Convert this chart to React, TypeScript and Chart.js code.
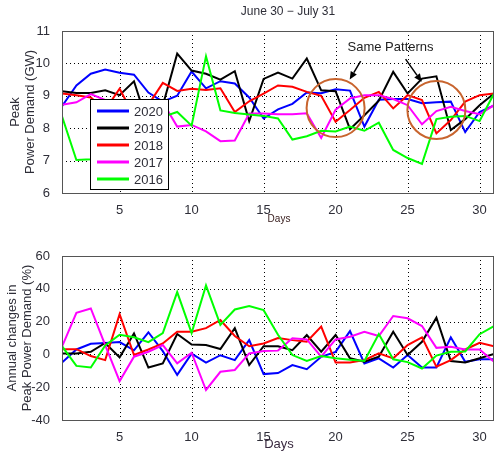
import React, { useEffect, useRef } from "react";
import { Chart, registerables } from "chart.js";
Chart.register(...registerables);

const days = [1, 2, 3, 4, 5, 6, 7, 8, 9, 10, 11, 12, 13, 14, 15, 16, 17, 18, 19, 20, 21, 22, 23, 24, 25, 26, 27, 28, 29, 30, 31];
const xTicks = [5, 10, 15, 20, 25, 30];
const years = ["2020", "2019", "2018", "2017", "2016"];
const colors = ["#0000ff", "#000000", "#ff0000", "#ff00ff", "#00ff00"];

// Peak power demand (GW)
const demand2020 = [8.68, 9.32, 9.68, 9.81, 9.71, 9.65, 9.1, 8.82, 9.0, 9.75, 9.23, 9.45, 9.38, 8.95, 8.3, 8.58, 8.75, 9.1, 9.08, 9.2, 9.16, 8.05, 8.88, 8.9, 8.9, 8.77, 8.8, 8.82, 7.88, 8.5, 8.7];
const demand2019 = [9.14, 9.09, 9.09, 9.17, 9.02, 9.45, 8.05, 8.7, 10.3, 9.78, 9.68, 9.5, 9.76, 8.22, 9.52, 9.72, 9.53, 10.15, 9.17, 9.14, 7.97, 8.4, 8.85, 9.74, 9.07, 9.53, 9.6, 7.94, 8.28, 8.71, 9.07];
const demand2018 = [9.07, 9.02, 8.95, 8.57, 9.22, 8.38, 8.72, 9.4, 9.15, 9.22, 9.18, 9.23, 8.5, 8.83, 9.07, 9.32, 9.28, 9.12, 9.0, 8.2, 8.56, 8.94, 9.12, 8.61, 9.02, 8.87, 7.84, 8.25, 8.82, 9.02, 9.07];
const demand2017 = [8.72, 8.8, 9.05, 8.87, 7.38, 8.41, 8.47, 8.8, 8.05, 8.1, 7.9, 7.6, 7.62, 8.45, 8.45, 8.43, 8.43, 8.46, 7.7, 8.57, 8.92, 9.02, 9.02, 8.9, 8.71, 8.12, 8.53, 8.66, 8.53, 8.43, 8.71];
const demand2016 = [8.37, 7.02, 7.04, 8.39, 8.82, 8.53, 8.33, 8.35, 8.5, 8.08, 10.22, 8.55, 8.47, 8.42, 8.38, 8.3, 7.65, 7.75, 7.92, 7.9, 8.05, 7.92, 8.17, 7.33, 7.08, 6.9, 8.28, 8.35, 8.38, 8.22, 9.07];

// Annual changes (%)
const change2020 = [-5, 3, 6.5, 7, 7.5, 2.5, 13.5, 2, -12.5, 0.5, -5, -0.5, -3.5, 8.7, -12, -11.4, -6.5, -9, -1.5, 1.5, 14.2, -5.5, -2.4, -8, -0.4, -8, -8, 10.4, -4.5, -3, -3];
const change2019 = [0.6, 0.6, 1.6, 7, -1.8, 12.8, -8, -5.5, 12.4, 6, 5.7, 3.3, 16, -6.5, 5, 5, 2.6, 11.8, 1.6, 11.8, -2.4, -4.5, -1.4, 13.8, -0.4, 7.7, 22.4, -4, -4.9, -2.4, 0.2];
const change2018 = [3.2, 3.2, -1, -3.5, 24.5, -0.4, 3, 6.7, 13.8, 13.8, 16, 21, 11.2, 5, 6.7, 10, 8.7, 7.7, 16.9, -5, -5, -3.5, 0.6, -2.4, 5.7, 10.4, -7.5, -3.5, 3, 7.1, 5];
const change2017 = [4.7, 25.4, 28, 5.7, -16.3, -1.4, 1.6, 5.7, -5.5, 1, -21.7, -10.6, -9.5, 0.6, 2, 2.3, 9.8, 9.1, -1.4, 9.1, 10.8, 13.8, 11.2, 23.4, 22, 17.3, 4, 4.7, 3, 3, -4.5];
const change2016 = [5, -7, -8, 5.5, 12, 10.5, 7.5, 13, 38, 13, 42, 18, 27.4, 29.5, 27, 12, -0.4, -4, -1, -2.4, -3.3, -4, 12.4, -3, -4.7, -8.6, -0.7, 1.6, 1.8, 12.3, 17.3];

const topSeries = [demand2020, demand2019, demand2018, demand2017, demand2016];
const bottomSeries = [change2020, change2019, change2018, change2017, change2016];

// annotations (data coordinates of the top chart)
const circleCenters = [[20.0, 8.62], [27.0, 8.56]];
const arrows = [[[21.74, 10.07], [20.98, 9.5]], [[24.86, 10.13], [25.98, 9.43]]];
const noteText = "Same Patterns";
const notePos = [20.83, 10.5];

const FONT = "'Liberation Sans', Arial, Helvetica, sans-serif";
const TXT = "#2e2e38";

function makeDatasets(series: number[][]) {
  return series.map((vals, i) => ({
    label: years[i],
    data: days.map((d, j) => ({ x: d, y: vals[j] })),
    borderColor: colors[i],
    backgroundColor: colors[i],
    borderWidth: 2,
    pointRadius: 0,
    tension: 0,
    order: i === 4 ? 0 : 5 - i,
  }));
}

function framePlugin(yGrid: number[], extra: (chart: any) => void) {
  return {
    id: "frame" + Math.random(),
    beforeDatasetsDraw(chart: any) {
      const { ctx, chartArea: a, scales } = chart;
      ctx.save();
      ctx.strokeStyle = "#000";
      ctx.lineWidth = 1;
      ctx.setLineDash([1, 3]);
      xTicks.forEach((v) => {
        const px = Math.round(scales.x.getPixelForValue(v)) + 0.5;
        ctx.beginPath();
        ctx.moveTo(px, a.top);
        ctx.lineTo(px, a.bottom);
        ctx.stroke();
      });
      yGrid.forEach((v) => {
        const py = Math.round(scales.y.getPixelForValue(v)) + 0.5;
        ctx.beginPath();
        ctx.moveTo(a.left, py);
        ctx.lineTo(a.right, py);
        ctx.stroke();
      });
      ctx.restore();
    },
    afterDatasetsDraw(chart: any) {
      const { ctx, chartArea: a } = chart;
      ctx.save();
      ctx.strokeStyle = "#555";
      ctx.lineWidth = 1;
      ctx.setLineDash([]);
      ctx.strokeRect(Math.round(a.left) + 0.5, Math.round(a.top) + 0.5, Math.round(a.right - a.left) - 1, Math.round(a.bottom - a.top));
      ctx.restore();
      extra(chart);
    },
  };
}

function drawVertical(ctx: CanvasRenderingContext2D, text: string, x: number, y: number) {
  ctx.save();
  ctx.translate(x, y);
  ctx.rotate(-Math.PI / 2);
  ctx.textAlign = "center";
  ctx.textBaseline = "middle";
  ctx.fillText(text, 0, 0);
  ctx.restore();
}

function drawArrow(ctx: CanvasRenderingContext2D, x1: number, y1: number, x2: number, y2: number) {
  const ang = Math.atan2(y2 - y1, x2 - x1);
  const L = 8;
  const W = 3.5;
  const bx = x2 - L * Math.cos(ang);
  const by = y2 - L * Math.sin(ang);
  ctx.beginPath();
  ctx.moveTo(x1, y1);
  ctx.lineTo(bx, by);
  ctx.stroke();
  ctx.beginPath();
  ctx.moveTo(x2, y2);
  ctx.lineTo(bx + W * Math.sin(ang), by - W * Math.cos(ang));
  ctx.lineTo(bx - W * Math.sin(ang), by + W * Math.cos(ang));
  ctx.closePath();
  ctx.fill();
}

function topExtra(chart: any) {
  const { ctx, chartArea: a, scales } = chart;
  const cx = (a.left + a.right) / 2;
  ctx.save();
  ctx.fillStyle = TXT;
  ctx.font = `12px ${FONT}`;
  ctx.textAlign = "center";
  ctx.textBaseline = "middle";
  ctx.fillText("June 30 \u2212 July 31", cx + 10, 12);
  ctx.font = `13px ${FONT}`;
  drawVertical(ctx, "Peak", 15, (a.top + a.bottom) / 2);
  drawVertical(ctx, "Power Demand (GW)", 30, (a.top + a.bottom) / 2);
  ctx.font = `10px ${FONT}`;
  ctx.fillStyle = "#3a2020";
  ctx.textAlign = "center";
  ctx.fillText("Days", cx + 1, a.bottom + 26);

  // circles
  ctx.strokeStyle = "#c8642e";
  ctx.lineWidth = 2;
  circleCenters.forEach(([d, v]) => {
    ctx.beginPath();
    ctx.arc(scales.x.getPixelForValue(d), scales.y.getPixelForValue(v), 29, 0, Math.PI * 2);
    ctx.stroke();
  });
  // arrows
  ctx.strokeStyle = "#000";
  ctx.fillStyle = "#000";
  ctx.lineWidth = 1.5;
  arrows.forEach(([p, q]) => {
    drawArrow(ctx, scales.x.getPixelForValue(p[0]), scales.y.getPixelForValue(p[1]), scales.x.getPixelForValue(q[0]), scales.y.getPixelForValue(q[1]));
  });
  ctx.fillStyle = "#222";
  ctx.font = `13px ${FONT}`;
  ctx.textAlign = "left";
  ctx.textBaseline = "middle";
  ctx.fillText(noteText, scales.x.getPixelForValue(notePos[0]), scales.y.getPixelForValue(notePos[1]));

  // legend
  const lx = a.left + 28;
  const ly = a.top + 68;
  const lw = 78;
  const lh = 90;
  ctx.fillStyle = "#fff";
  ctx.fillRect(lx, ly, lw, lh);
  ctx.strokeStyle = "#000";
  ctx.lineWidth = 1;
  ctx.strokeRect(lx + 0.5, ly + 0.5, lw, lh);
  const rows = [12, 29, 46, 63, 80];
  years.forEach((yr, i) => {
    const yy = ly + rows[i];
    ctx.strokeStyle = colors[i];
    ctx.lineWidth = 3;
    ctx.beginPath();
    ctx.moveTo(lx + 7, yy);
    ctx.lineTo(lx + 39, yy);
    ctx.stroke();
    ctx.fillStyle = TXT;
    ctx.font = `13px ${FONT}`;
    ctx.textAlign = "left";
    ctx.textBaseline = "middle";
    ctx.fillText(yr, lx + 44, yy + 1);
  });
  ctx.restore();
}

function bottomExtra(chart: any) {
  const { ctx, chartArea: a } = chart;
  const cx = (a.left + a.right) / 2;
  ctx.save();
  ctx.fillStyle = TXT;
  ctx.font = `13px ${FONT}`;
  drawVertical(ctx, "Annual changes in", 12, (a.top + a.bottom) / 2);
  drawVertical(ctx, "Peak Power Demand (%)", 27, (a.top + a.bottom) / 2);
  ctx.textAlign = "center";
  ctx.textBaseline = "middle";
  ctx.fillStyle = "#3a2a40";
  ctx.fillText("Days", cx + 1, a.bottom + 24);
  ctx.restore();
}

function makeConfig(series: number[][], yMin: number, yMax: number, yStep: number, yGrid: number[], padTop: number, padBottom: number, extra: (c: any) => void): any {
  return {
    type: "line",
    data: { datasets: makeDatasets(series) },
    options: {
      animation: false,
      responsive: false,
      events: [],
      layout: { padding: { top: padTop, bottom: padBottom, left: 0, right: 1 } },
      plugins: { legend: { display: false }, title: { display: false }, tooltip: { enabled: false } },
      scales: {
        x: {
          type: "linear",
          min: 1,
          max: 31,
          grid: { display: false },
          border: { display: false },
          afterBuildTicks: (s: any) => {
            s.ticks = xTicks.map((v) => ({ value: v }));
          },
          afterFit: (s: any) => {
            s.height = 30;
          },
          ticks: { color: TXT, font: { size: 13, family: FONT }, padding: 2, maxRotation: 0, autoSkip: false },
        },
        y: {
          type: "linear",
          min: yMin,
          max: yMax,
          grid: { display: false },
          border: { display: false },
          afterFit: (s: any) => {
            s.width = 62;
          },
          ticks: { stepSize: yStep, color: TXT, font: { size: 13, family: FONT }, padding: 4 },
        },
      },
    },
    plugins: [framePlugin(yGrid, extra)],
  };
}

export default function App() {
  const topRef = useRef<HTMLCanvasElement | null>(null);
  const botRef = useRef<HTMLCanvasElement | null>(null);
  useEffect(() => {
    document.body.style.margin = "0";
    const c1 = new Chart(topRef.current as HTMLCanvasElement, makeConfig(topSeries, 6, 11, 1, [7, 8, 9, 10], 31, 455 - 193 - 30, topExtra));
    const c2 = new Chart(botRef.current as HTMLCanvasElement, makeConfig(bottomSeries, -40, 60, 20, [-20, 0, 20, 40], 256, 455 - 420 - 30, bottomExtra));
    return () => {
      c1.destroy();
      c2.destroy();
    };
  }, []);
  const st: React.CSSProperties = { position: "absolute", left: 0, top: 0, width: 495, height: 455 };
  return (
    <div style={{ position: "fixed", left: 0, top: 0, width: 495, height: 455, background: "#fff" }}>
      <canvas ref={topRef} width={495} height={455} style={st} />
      <canvas ref={botRef} width={495} height={455} style={st} />
    </div>
  );
}
